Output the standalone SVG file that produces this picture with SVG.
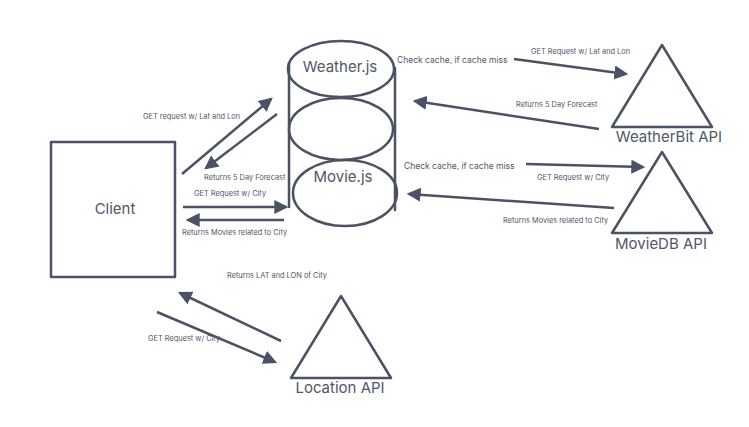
<svg xmlns="http://www.w3.org/2000/svg" width="749" height="427" viewBox="0 0 749 427">
<style>
.s{fill:none;stroke:#4b5263;stroke-width:2.5;stroke-linecap:round;stroke-linejoin:round}
.a{fill:none;stroke:#4b5263;stroke-width:2.5;marker-end:url(#ah)}
text{font-family:Inter,"Liberation Sans",sans-serif;fill:#505767}
.big{font-size:15px;text-anchor:middle}
.mid{font-size:8.5px}
.sm{font-size:7.4px}
</style>
<defs>
<marker id="ah" markerUnits="userSpaceOnUse" markerWidth="14" markerHeight="14" viewBox="0 0 12 12" refX="10" refY="6" orient="auto">
<path d="M0,0 L12,6 L0,12 z" fill="#4b5263"/>
</marker>
</defs>
<rect width="749" height="427" fill="#ffffff"/>
<g id="client">
<rect class="s" x="51" y="142" width="124" height="135"/>
<text class="big" x="115" y="214">Client</text>
</g>
<g id="cylinder">
<line class="s" x1="289" y1="63" x2="289" y2="207"/>
<line class="s" x1="395" y1="68" x2="395" y2="210"/>
<ellipse class="s" cx="341" cy="69" rx="53" ry="28"/>
<ellipse class="s" cx="341" cy="129" rx="52" ry="31"/>
<ellipse class="s" cx="345" cy="193" rx="52" ry="33"/>
<text class="big" x="340" y="72">Weather.js</text>
<text class="big" x="343" y="182">Movie.js</text>
</g>
<g id="weatherbit">
<polygon class="s" points="662,45 612,127 712,127"/>
<text class="big" x="669" y="142">WeatherBit API</text>
</g>
<g id="moviedb">
<polygon class="s" points="662,152 612,233 712,233"/>
<text class="big" x="661" y="249">MovieDB API</text>
</g>
<g id="location">
<polygon class="s" points="341,296 291,378 391,378"/>
<text class="big" x="340" y="393">Location API</text>
</g>
<g id="connectors">
<line class="a" x1="182" y1="174" x2="271" y2="99"/>
<line class="a" x1="277" y1="114" x2="206" y2="168"/>
<line class="a" x1="183" y1="207" x2="286" y2="207"/>
<line class="a" x1="284" y1="220" x2="188" y2="220"/>
<line class="a" x1="514" y1="59" x2="626" y2="74"/>
<line class="a" x1="599" y1="129" x2="415" y2="101"/>
<line class="a" x1="526" y1="164" x2="643" y2="167"/>
<line class="a" x1="614" y1="208" x2="409" y2="194"/>
<line class="a" x1="281" y1="341" x2="180" y2="293"/>
<line class="a" x1="157" y1="312" x2="275" y2="362"/>
</g>
<g id="labels">
<text class="sm" x="143" y="119">GET request w/ Lat and Lon</text>
<text class="sm" x="204" y="180">Returns 5 Day Forecast</text>
<text class="sm" x="194" y="196">GET Request w/ City</text>
<text class="sm" x="182" y="235">Returns Movies related to City</text>
<text class="mid" x="397" y="63">Check cache, if cache miss</text>
<text class="sm" x="531" y="54">GET Request w/ Lat and Lon</text>
<text class="sm" x="516" y="107">Returns 5 Day Forecast</text>
<text class="mid" x="404" y="169">Check cache, if cache miss</text>
<text class="sm" x="537" y="180">GET Request w/ City</text>
<text class="sm" x="503" y="223">Returns Movies related to City</text>
<text class="sm" x="227" y="278">Returns LAT and LON of City</text>
<text class="sm" x="148" y="341">GET Request w/ City</text>
</g>
</svg>
